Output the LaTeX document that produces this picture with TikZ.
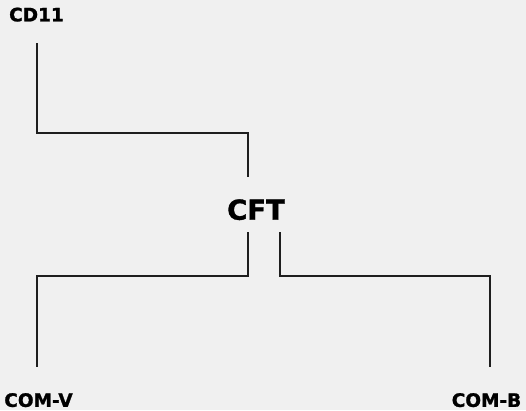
\documentclass[tikz,border=0pt]{standalone}
\usepackage{fontspec}
\setmainfont{DejaVu Sans}[BoldFeatures={FakeBold=1.3}]
\definecolor{bg}{HTML}{F0F0F0}
\definecolor{ln}{HTML}{1E1E1E}
\begin{document}
\begin{tikzpicture}[x=1pt,y=-1pt,
  lbl/.style={font=\bfseries\fontsize{18.5}{22}\selectfont, text=black, inner sep=0pt, text depth=0pt},
  big/.style={font=\bfseries\fontsize{27.5}{32}\selectfont, text=black, inner sep=0pt, text depth=0pt},
  conn/.style={draw=ln, line width=1.1pt}]
\fill[bg] (0,0) rectangle (526,410);
\useasboundingbox (0,0) rectangle (526,410);
\node[lbl] (cd11) at (36.5,14.5) {CD11};
\node[big] (cft) at (256,209.5) {CFT};
\node[lbl] (comv) at (38.5,400) {COM-V};
\node[lbl] (comb) at (486.5,400) {COM-B};
\coordinate (a1) at (37,43);
\coordinate (a2) at (248,177);
\coordinate (b1) at (248,232);
\coordinate (b2) at (37,367);
\coordinate (c1) at (280,232);
\coordinate (c2) at (490,367);
\draw[conn] (a1) -- (37,133) -| (a2);
\draw[conn] (b1) -- (248,276) -| (b2);
\draw[conn] (c1) -- (280,276) -| (c2);
\end{tikzpicture}
\end{document}
